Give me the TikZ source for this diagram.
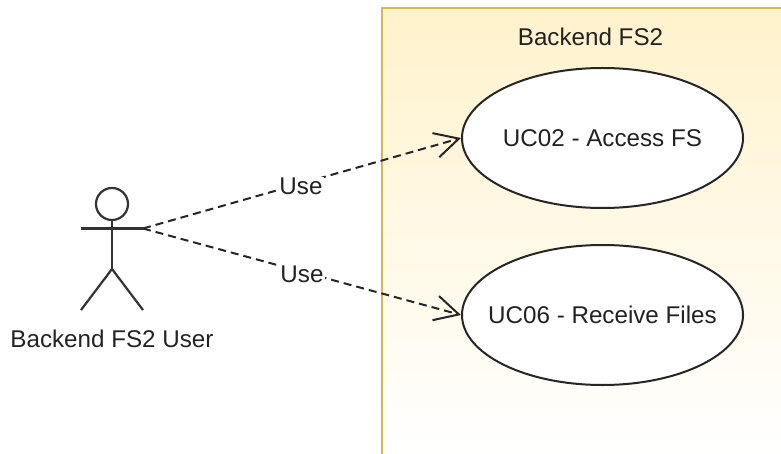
\documentclass[tikz,border=0pt]{standalone}
\usepackage{fontspec}
\setmainfont{Liberation Sans}
\usetikzlibrary{arrows.meta,shapes.geometric}
\definecolor{txt}{HTML}{222222}
\definecolor{lin}{HTML}{333333}
\definecolor{sysfill}{HTML}{FFF2CC}
\definecolor{sysline}{HTML}{D6B656}
\tikzset{
  usecase/.style={draw=black!85,line width=2pt,fill=white,ellipse,inner sep=-40pt,minimum width=281pt,minimum height=140pt,text=txt,font=\fontsize{24.2}{28}\selectfont},
  lbl/.style={text=txt,font=\fontsize{24.2}{28}\selectfont,inner sep=1pt},
  uselink/.style={draw=black!85,line width=2pt,dash pattern=on 8pt off 5pt,-{Straight Barb[length=24pt,width=25pt,line width=2pt]}},
  stick/.style={draw=lin,line width=2.2pt}
}
\begin{document}
\begin{tikzpicture}[x=1pt,y=-1pt]
\useasboundingbox (0,0) rectangle (781,454);
\begin{scope}
\clip (0,0) rectangle (781,454);
\node (sys) [shape=rectangle,minimum width=420pt,minimum height=450pt,inner sep=0pt,anchor=north west,top color=sysfill,bottom color=white] at (382,8) {};
\draw[draw=sysline,line width=2pt] (sys.north east) -- (sys.north west) -- (sys.south west);
\end{scope}
\node[lbl] (title) at (590.5,37) {Backend FS2};
\node[usecase] (uc1) at (602.5,138) {UC02 - Access FS};
\node[usecase] (uc2) at (602.5,315) {UC06 - Receive Files};
\node (headc) [circle,draw=lin,line width=2.2pt,minimum size=32pt,inner sep=0pt] at (112,204) {};
\coordinate (hip) at (112,269);
\coordinate (lh) at (81,228.5);
\coordinate (rh) at (143,228.5);
\coordinate (lf) at (81,310);
\coordinate (rf) at (143,310);
\draw[stick] (headc.south) -- (hip);
\draw[stick] (lh) -- (rh);
\draw[stick] (lf) -- (hip) -- (rf);
\node[lbl] (actor) at (112,339) {Backend FS2 User};
\draw[uselink] (rh) -- (uc1.west) node[pos=0.5,fill=white,lbl,yshift=-3pt,xshift=-1pt] (u1) {Use};
\draw[uselink] (rh) -- (uc2.west) node[pos=0.5,fill=white,lbl,yshift=-3pt,xshift=0pt] (u2) {Use};
\end{tikzpicture}
\end{document}
